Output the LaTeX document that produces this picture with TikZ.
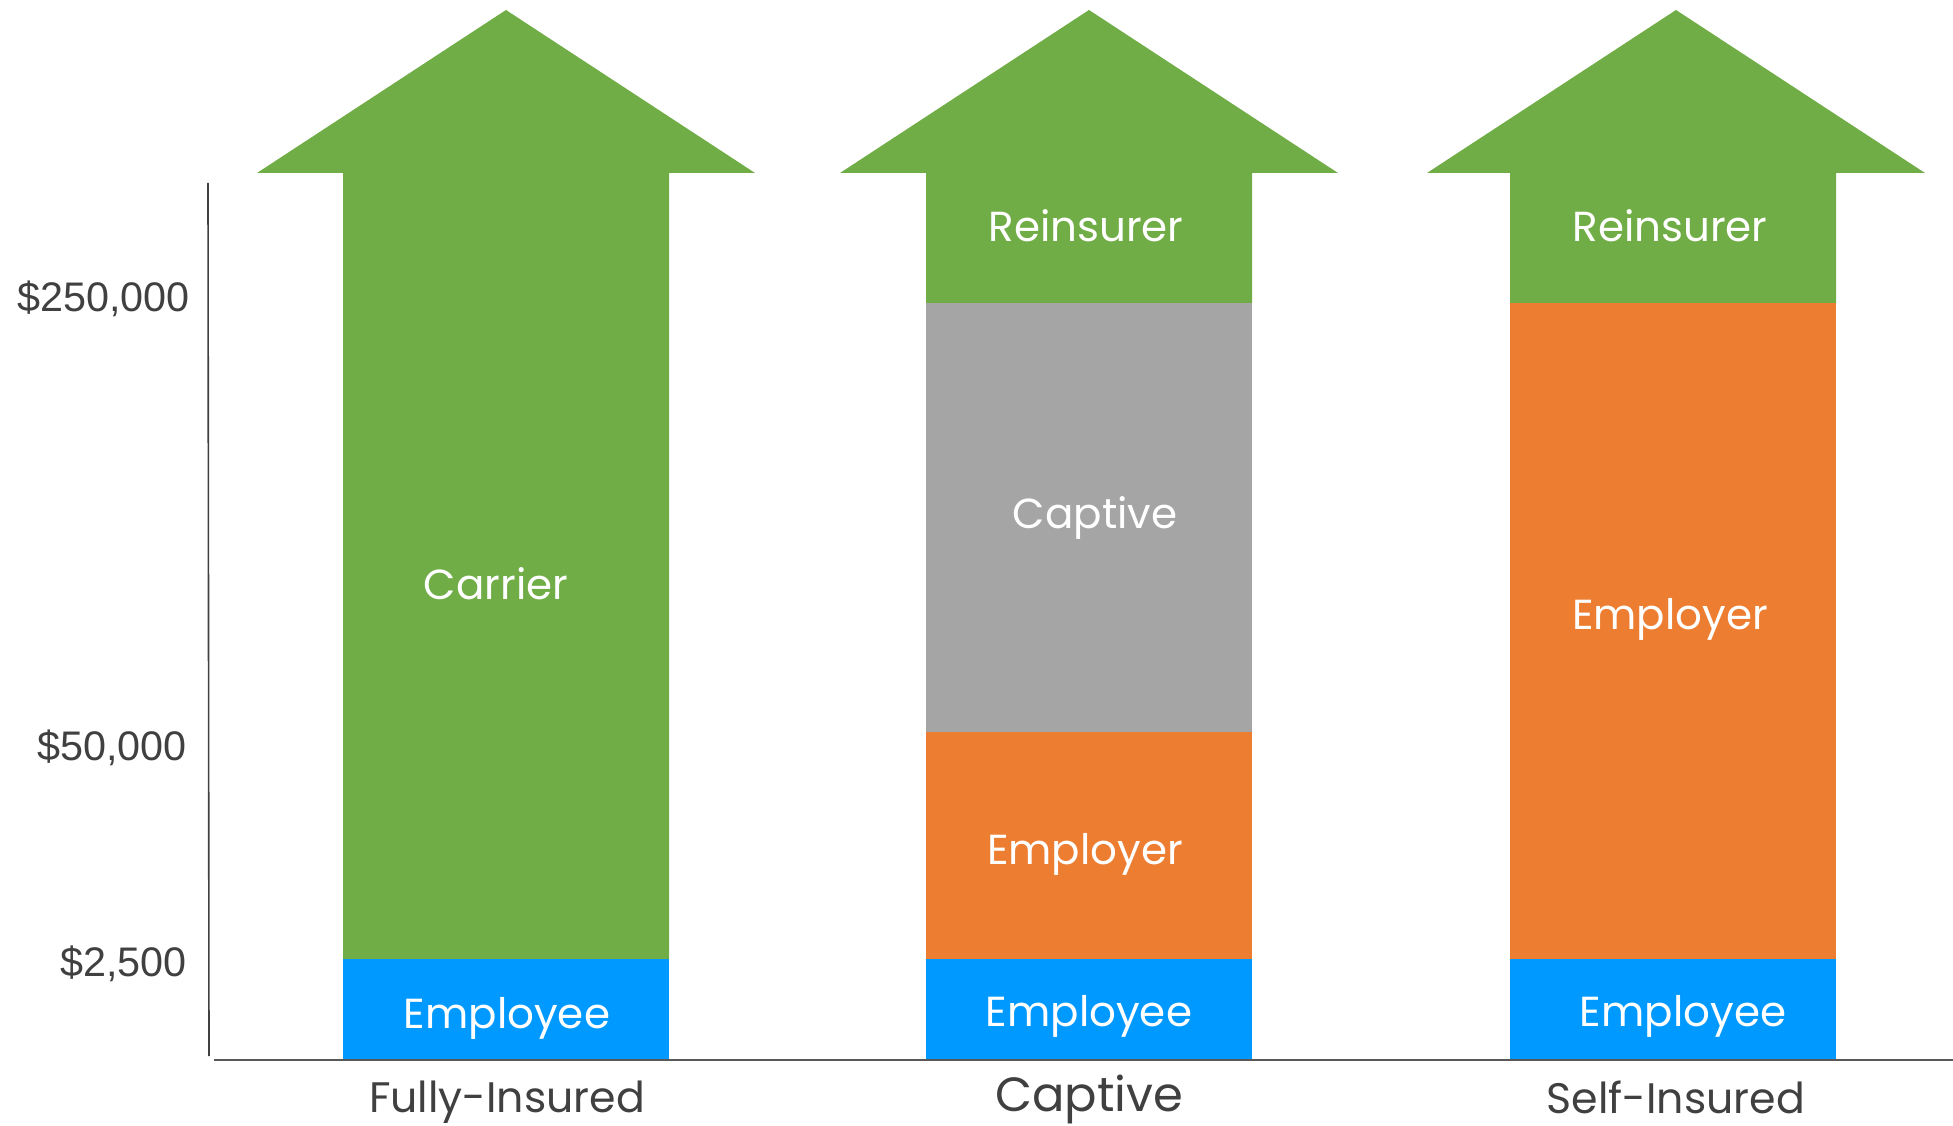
\documentclass[tikz,border=0pt]{standalone}
\usepackage{fontspec}
\usepackage{xcolor}
\setmainfont{Poppins}
\newfontfamily\axisfont{Liberation Sans}

\begin{document}
\begin{tikzpicture}[x=0.75pt,y=0.75pt,yscale=-1,xscale=1,
    greenfill/.style={fill={rgb, 255:red, 112; green, 173; blue, 71 }, draw=none},
    greyfill/.style={fill={rgb, 255:red, 165; green, 165; blue, 165 }, draw=none},
    orangefill/.style={fill={rgb, 255:red, 237; green, 125; blue, 49 }, draw=none},
    bluefill/.style={fill={rgb, 255:red, 0; green, 153; blue, 255 }, draw=none},
    inlabel/.style={text=white, inner sep=0.75pt, font=\fontsize{31.5}{38}\selectfont},
    ticklabel/.style={text={rgb, 255:red, 64; green, 64; blue, 64 }, anchor=east, inner sep=0.75pt, font=\axisfont\fontsize{31}{37}\selectfont},
    caselabel/.style={text={rgb, 255:red, 64; green, 64; blue, 64 }, inner sep=0.75pt, font=\fontsize{32}{38}\selectfont}]
    \useasboundingbox (0,0) rectangle (1953,1126);

    %Shape: Arrow [id:fully]
    \fill [greenfill] (257,173) -- (506,10) -- (755,173) -- (669,173) -- (669,959) -- (343,959) -- (343,173) -- cycle ;
    %Shape: Rectangle [id:fullyemployee]
    \fill [bluefill] (343,959) rectangle (669,1060) ;

    %Shape: Arrow [id:captive]
    \fill [greenfill] (840,173) -- (1089,10) -- (1338,173) -- (1252,173) -- (1252,303) -- (926,303) -- (926,173) -- cycle ;
    %Shape: Rectangle [id:captivecaptive]
    \fill [greyfill] (926,303) rectangle (1252,732) ;
    %Shape: Rectangle [id:captiveemployer]
    \fill [orangefill] (926,732) rectangle (1252,959) ;
    %Shape: Rectangle [id:captiveemployee]
    \fill [bluefill] (926,959) rectangle (1252,1060) ;

    %Shape: Arrow [id:self]
    \fill [greenfill] (1427,173) -- (1676,10) -- (1925,173) -- (1836,173) -- (1836,303) -- (1510,303) -- (1510,173) -- cycle ;
    %Shape: Rectangle [id:selfemployer]
    \fill [orangefill] (1510,303) rectangle (1836,959) ;
    %Shape: Rectangle [id:selfemployee]
    \fill [bluefill] (1510,959) rectangle (1836,1060) ;

    %Straight Lines [id:yaxis]
    \coordinate (ytop) at (208,183);
    \coordinate (ybot) at (209,1056);
    \draw [color={rgb, 255:red, 64; green, 64; blue, 64 }, line width=1.2] (ytop) -- (ybot) ;
    %Straight Lines [id:xaxis]
    \coordinate (xleft) at (214,1060);
    \coordinate (xright) at (1953,1060);
    \draw [color={rgb, 255:red, 89; green, 89; blue, 89 }, line width=2] (xleft) -- (xright) ;

    % Text Node
    \draw (191,299) node [ticklabel] (t250k) {\$250,000};
    % Text Node
    \draw (188,748) node [ticklabel] (t50k) {\$50,000};
    % Text Node
    \draw (188,964) node [ticklabel] (t2k) {\$2,500};

    % Text Node
    \draw (496,584) node [inlabel] (carrier) {Carrier};
    % Text Node
    \draw (507,1018) node [inlabel] (employee1) {Employee};
    % Text Node
    \draw (1086,226) node [inlabel] (reinsurer2) {Reinsurer};
    % Text Node
    \draw (1095,518) node [inlabel] (captive2) {Captive};
    % Text Node
    \draw (1085,854) node [inlabel] (employer2) {Employer};
    % Text Node
    \draw (1089,1016) node [inlabel] (employee2) {Employee};
    % Text Node
    \draw (1670,226) node [inlabel] (reinsurer3) {Reinsurer};
    % Text Node
    \draw (1670,619) node [inlabel] (employer3) {Employer};
    % Text Node
    \draw (1683,1016) node [inlabel] (employee3) {Employee};

    % Text Node
    \draw (507,1102) node [caselabel] (fully) {Fully-Insured};
    % Text Node
    \draw (1089,1099) node [caselabel, font=\fontsize{36}{42}\selectfont] (captive) {Captive};
    % Text Node
    \draw (1676,1097) node [caselabel] (self) {Self-Insured};

\end{tikzpicture}
\end{document}
